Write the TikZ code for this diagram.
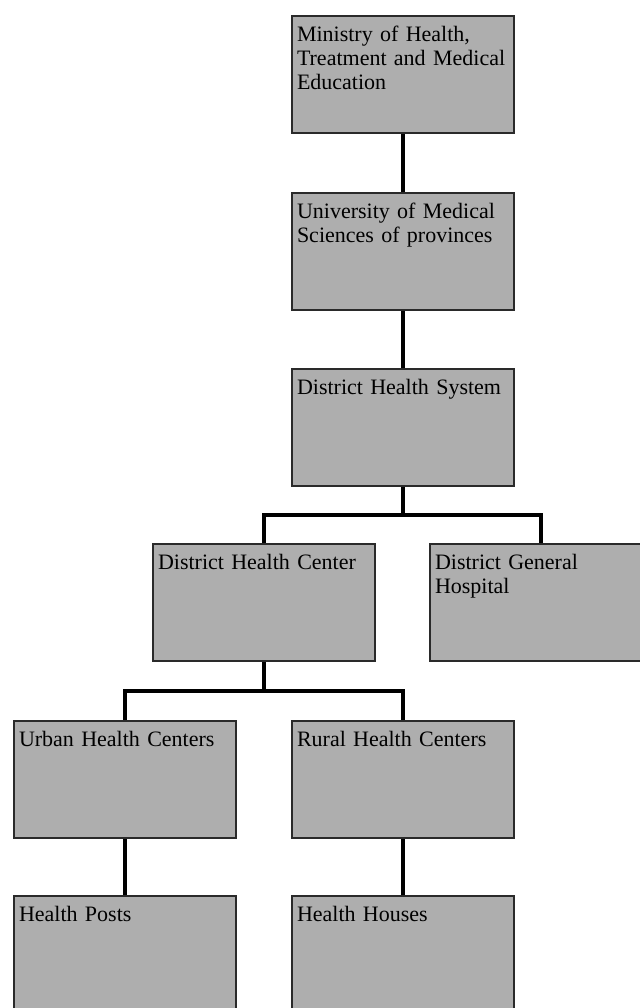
\documentclass[tikz,border=0pt]{standalone}
\usepackage{fontspec}
\setmainfont{Liberation Serif}
\definecolor{boxgray}{HTML}{AEAEAE}
\definecolor{boxline}{HTML}{2A2A2A}
\begin{document}
\begin{tikzpicture}[x=0.5pt, y=-0.5pt,
		unit/.style={draw=boxline, line width=1pt, fill=boxgray, anchor=north west,
			text width=106pt, align=left, inner xsep=2.5pt, inner ysep=4.5pt,
			text height=8pt, text depth=41.5pt, font=\fontsize{11}{12}\selectfont},
		link/.style={line width=2pt, black}]
			\useasboundingbox (0,0) rectangle (639,1008);
			\node[unit] (moh) at (291,15) {Ministry of Health,\\Treatment and Medical\\Education};
			\node[unit] (ums) at (291,192) {University of Medical\\Sciences of provinces};
			\node[unit] (dhs) at (291,368) {District Health System};
			\node[unit] (dhc) at (152,543) {District Health Center};
			\node[unit] (dgh) at (429,543) {District General\\Hospital};
			\node[unit] (uhc) at (13,720) {Urban Health Centers};
			\node[unit] (rhc) at (291,720) {Rural Health Centers};
			\node[unit] (hp) at (13,895) {Health Posts};
			\node[unit] (hh) at (291,895) {Health Houses};
			\draw[link] (moh.south) -- (ums.north);
			\draw[link] (ums.south) -- (dhs.north);
			\draw[link] (dhs.south) -- ++(0,28) coordinate (j1) -| (dhc.north);
			\draw[link] (j1) -| (dgh.north);
			\draw[link] (dhc.south) -- ++(0,29) coordinate (j2) -| (uhc.north);
			\draw[link] (j2) -| (rhc.north);
			\draw[link] (uhc.south) -- (hp.north);
			\draw[link] (rhc.south) -- (hh.north);
		\end{tikzpicture}
\end{document}
